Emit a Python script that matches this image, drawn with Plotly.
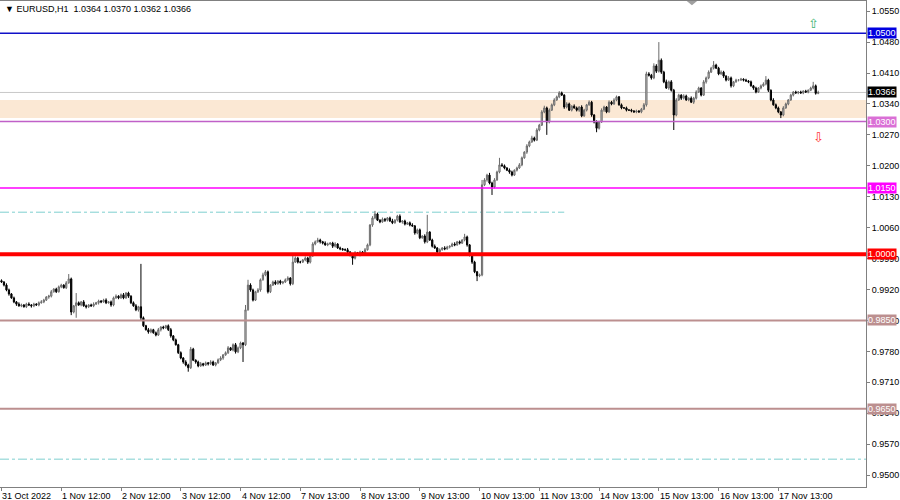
import plotly.graph_objects as go

# ---------------- DATA ----------------
symbol_header = "\u25BC EURUSD,H1  1.0364 1.0370 1.0362 1.0366"

first_open = 0.9940
closes = [
    0.9937,0.9930,0.9919,0.9910,0.9901,0.9892,0.9887,0.9883,0.9885,0.9881,0.9887,0.9885,0.9883,0.9887,0.9885,0.9890,0.9892,0.9896,0.9903,0.9905,0.9915,0.9921,0.9915,0.9926,
    0.9930,0.9924,0.9935,0.9944,0.9869,0.9883,0.9890,0.9885,0.9892,0.9883,0.9881,0.9885,0.9883,0.9887,0.9890,0.9894,0.9892,0.9896,0.9890,0.9892,0.9885,0.9901,0.9905,0.9901,
    0.9908,0.9901,0.9912,0.9905,0.9890,0.9883,0.9874,0.9881,0.9856,0.9838,0.9829,0.9824,0.9829,0.9822,0.9817,0.9829,0.9835,0.9833,0.9838,0.9829,0.9815,0.9806,0.9795,0.9777,
    0.9765,0.9756,0.9749,0.9743,0.9785,0.9760,0.9756,0.9747,0.9752,0.9749,0.9754,0.9752,0.9756,0.9749,0.9754,0.9761,0.9765,0.9772,0.9777,0.9788,0.9783,0.9795,0.9779,0.9788,
    0.9799,0.9795,0.9874,0.9930,0.9919,0.9896,0.9915,0.9919,0.9942,0.9953,0.9960,0.9915,0.9930,0.9937,0.9933,0.9939,0.9935,0.9937,0.9942,0.9946,0.9933,0.9982,0.9991,0.9982,
    0.9982,0.9987,0.9991,0.9982,0.9996,1.0023,1.0028,1.0032,1.0028,1.0025,1.0021,1.0023,1.0025,1.0018,1.0023,1.0014,1.0012,1.0010,1.0010,1.0005,0.9998,0.9991,1.0003,0.9998,
    1.0005,1.0000,1.0010,1.0021,1.0066,1.0082,1.0091,1.0077,1.0073,1.0079,1.0077,1.0082,1.0075,1.0071,1.0077,1.0086,1.0073,1.0075,1.0068,1.0071,1.0066,1.0064,1.0048,1.0055,
    1.0037,1.0041,1.0028,1.0050,1.0032,1.0018,1.0014,1.0005,1.0010,1.0014,1.0012,1.0016,1.0018,1.0023,1.0021,1.0028,1.0025,1.0032,1.0039,1.0021,0.9998,0.9982,0.9960,0.9951,
    0.9953,1.0157,1.0168,1.0179,1.0161,1.0152,1.0168,1.0186,1.0202,1.0200,1.0195,1.0190,1.0186,1.0179,1.0190,1.0195,1.0202,1.0218,1.0231,1.0245,1.0254,1.0263,1.0258,1.0281,
    1.0292,1.0322,1.0331,1.0299,1.0326,1.0338,1.0349,1.0356,1.0365,1.0360,1.0333,1.0340,1.0326,1.0335,1.0331,1.0326,1.0333,1.0313,1.0326,1.0338,1.0344,1.0315,1.0299,1.0285,
    1.0299,1.0326,1.0333,1.0322,1.0344,1.0340,1.0349,1.0356,1.0338,1.0331,1.0331,1.0326,1.0326,1.0324,1.0322,1.0324,1.0322,1.0328,1.0338,1.0408,1.0405,1.0399,1.0426,1.0414,
    1.0439,1.0412,1.0390,1.0376,1.0390,1.0371,1.0315,1.0349,1.0360,1.0353,1.0358,1.0349,1.0353,1.0344,1.0353,1.0367,1.0376,1.0360,1.0390,1.0399,1.0412,1.0421,1.0428,1.0421,
    1.0408,1.0412,1.0403,1.0394,1.0399,1.0381,1.0390,1.0394,1.0394,1.0396,1.0394,1.0392,1.0390,1.0381,1.0376,1.0367,1.0376,1.0381,1.0385,1.0394,1.0371,1.0349,1.0338,1.0331,
    1.0322,1.0315,1.0331,1.0340,1.0349,1.0360,1.0367,1.0365,1.0367,1.0365,1.0369,1.0367,1.0371,1.0376,1.0381,1.0364,1.0366,
]

# upper / lower wick lengths in pips
up_wick_pips = [
    3,2,4,3,2,3,2,4,3,2,3,4,2,3,2,3,4,3,2,3,4,2,3,3,
    3,2,4,11,3,2,22,3,2,4,3,2,3,4,2,3,2,3,4,2,3,3,4,2,
    3,4,2,3,2,3,4,2,97,3,2,4,3,2,3,4,2,3,2,3,4,2,3,2,
    3,2,4,3,5,3,2,3,4,2,3,2,4,3,2,3,4,2,3,4,2,3,4,3,
    3,2,11,12,4,3,2,4,3,5,4,3,2,3,4,2,3,2,3,4,2,18,4,3,
    3,2,4,3,2,4,3,5,3,2,4,3,2,3,4,2,3,2,3,4,2,3,4,2,
    3,2,4,3,2,4,7,3,2,4,3,2,3,5,2,3,4,2,3,2,3,4,2,3,
    3,2,4,39,2,3,4,2,3,2,4,3,2,3,4,2,3,2,7,3,2,4,3,2,
    3,11,4,3,5,3,4,3,16,4,3,2,4,3,2,3,4,3,2,4,3,5,3,4,
    3,4,5,3,4,3,4,3,4,3,2,4,3,2,4,3,2,4,3,2,4,3,2,4,
    3,4,3,2,4,3,4,3,2,3,2,3,2,3,2,3,2,3,4,5,4,3,6,4,
    41,4,3,5,3,4,3,4,3,2,4,3,2,4,3,4,3,2,4,3,4,3,9,3,
    3,4,3,2,4,3,2,3,2,3,2,3,2,3,2,3,2,3,4,9,3,2,4,3,
    3,2,4,3,2,3,2,3,2,3,2,3,2,3,9,3,4,
]
dn_wick_pips = [
    2,3,3,4,2,3,4,2,3,2,3,2,4,3,2,3,2,3,2,4,3,2,3,2,
    3,2,3,2,7,3,27,2,3,2,4,3,2,3,2,4,3,2,3,2,4,3,2,3,
    2,3,2,4,3,2,3,4,5,3,2,4,3,2,3,2,4,3,2,3,4,3,2,3,
    3,4,3,9,3,2,4,3,2,3,2,4,3,2,3,2,3,4,2,3,2,3,4,3,
    3,39,3,2,4,3,2,3,4,2,3,4,3,2,3,2,4,3,2,3,4,3,2,3,
    3,2,3,4,3,2,3,2,4,3,2,3,2,4,3,2,3,2,3,4,3,15,3,2,
    3,2,3,2,3,4,3,2,3,2,4,3,2,3,2,3,2,4,3,2,3,2,4,3,
    3,2,4,3,2,3,2,4,3,2,3,2,3,2,3,2,3,2,3,4,3,4,3,12,
    3,3,3,4,3,18,3,2,3,2,3,2,4,3,2,3,2,3,2,4,3,2,3,2,
    3,2,3,29,3,2,3,2,3,2,4,3,2,3,2,3,4,3,2,3,2,4,3,9,
    3,2,4,3,2,3,2,3,2,3,2,3,2,3,2,3,2,3,2,4,3,4,3,4,
    3,4,3,2,4,3,34,3,2,4,3,2,3,2,4,3,2,3,2,4,3,2,3,2,
    3,2,4,3,2,4,3,2,3,2,3,2,3,2,4,3,2,3,2,3,4,3,2,3,
    3,7,3,2,3,2,3,2,3,2,3,2,3,2,3,3,2,
]

time_labels = ["31 Oct 2022", "1 Nov 12:00", "2 Nov 12:00", "3 Nov 12:00", "4 Nov 12:00",
               "7 Nov 13:00", "8 Nov 13:00", "9 Nov 13:00", "10 Nov 13:00", "11 Nov 13:00",
               "14 Nov 13:00", "15 Nov 13:00", "16 Nov 13:00", "17 Nov 13:00"]
bars_per_label = 24

price_ticks = [0.9500, 0.9570, 0.9640, 0.9710, 0.9780, 0.9850, 0.9920, 0.9990,
               1.0060, 1.0130, 1.0200, 1.0270, 1.0340, 1.0410, 1.0480, 1.0550]

levels = [1.0500, 1.0300, 1.0150, 1.0000, 0.9850, 0.9650]
level_colors = ["#1010C8", "#C060C8", "#FF00FF", "#FF0000", "#BC8F8F", "#BC8F8F"]
level_label_bg = ["#0000E0", "#DA70D6", "#FF00FF", "#FF0000", "#BC8F8F", "#BC8F8F"]
level_widths = [1.5, 1.5, 1.5, 4, 2, 2]

zone_low, zone_high = 1.0308, 1.0349
bid_price = 1.0366
dashdot_levels = [1.0095, 0.9536]
dashdot_end_bar = [226, None]

# ---------------- BUILD ----------------
N = len(closes)
idx = list(range(N))
opens = [first_open] + closes[:-1]
highs = [max(o, c) + u * 0.0001 for o, c, u in zip(opens, closes, up_wick_pips)]
lows = [min(o, c) - d * 0.0001 for o, c, d in zip(opens, closes, dn_wick_pips)]

x_range = [-0.6, 347.2]
y_range = [0.9473, 1.0573]

fig = go.Figure()
fig.add_trace(go.Candlestick(
    x=idx, open=opens, high=highs, low=lows, close=closes,
    increasing=dict(line=dict(color="#6A6A6A", width=1), fillcolor="#D8D8D8"),
    decreasing=dict(line=dict(color="#000000", width=1), fillcolor="#000000"),
    whiskerwidth=0, hoverinfo="skip", showlegend=False,
))

shapes = []
shapes.append(dict(type="rect", xref="paper", yref="y", x0=0, x1=1, y0=zone_low, y1=zone_high,
                   fillcolor="#FBE8D4", line=dict(width=0), layer="below"))
shapes.append(dict(type="line", xref="paper", yref="y", x0=0, x1=1, y0=bid_price, y1=bid_price,
                   line=dict(color="#C8C8C8", width=1), layer="below"))
for lv, end in zip(dashdot_levels, dashdot_end_bar):
    if end is None:
        shapes.append(dict(type="line", xref="paper", yref="y", x0=0, x1=1, y0=lv, y1=lv,
                           line=dict(color="#7FCFCF", width=1, dash="dashdot"), layer="below"))
    else:
        shapes.append(dict(type="line", xref="x", yref="y", x0=x_range[0], x1=end, y0=lv, y1=lv,
                           line=dict(color="#7FCFCF", width=1, dash="dashdot"), layer="below"))
for lv, col, w in zip(levels, level_colors, level_widths):
    shapes.append(dict(type="line", xref="paper", yref="y", x0=0, x1=1, y0=lv, y1=lv,
                       line=dict(color=col, width=w), layer="above"))
shapes.append(dict(type="path", xref="paper", yref="paper",
                   path="M 0.793 1.0 L 0.805 1.0 L 0.799 0.991 Z",
                   fillcolor="#A0A0A0", line=dict(width=0)))

annotations = []
annotations.append(dict(text=symbol_header, xref="paper", yref="paper", x=0.004, y=1.0,
                        xanchor="left", yanchor="top", yshift=-1, showarrow=False,
                        font=dict(family="Liberation Sans", size=9, color="#000000")))
for lv, bg in zip(levels, level_label_bg):
    annotations.append(dict(text=f"{lv:.4f}", xref="paper", yref="y", x=1.0, y=lv,
                            xanchor="left", yanchor="middle", xshift=1, showarrow=False,
                            bgcolor=bg, borderpad=0,
                            font=dict(family="Liberation Sans", size=9, color="#FFFFFF")))
annotations.append(dict(text=f"{bid_price:.4f}", xref="paper", yref="y", x=1.0, y=bid_price,
                        xanchor="left", yanchor="middle", xshift=1, showarrow=False,
                        bgcolor="#000000", borderpad=0,
                        font=dict(family="Liberation Sans", size=9, color="#FFFFFF")))
annotations.append(dict(text="\u21E7", xref="x", yref="y", x=326, y=1.0521, showarrow=False,
                        font=dict(family="DejaVu Sans", size=13, color="#3CB371")))
annotations.append(dict(text="\u21E9", xref="x", yref="y", x=328, y=1.0265, showarrow=False,
                        font=dict(family="DejaVu Sans", size=13, color="#FF3030")))
tick_idx = [k * bars_per_label for k in range(len(time_labels))]
for t, lab in zip(tick_idx, time_labels):
    annotations.append(dict(text=lab, xref="x", yref="paper", x=t, y=0, xanchor="left",
                            yanchor="top", yshift=-2, xshift=-1, showarrow=False,
                            font=dict(family="Liberation Sans", size=9, color="#000000")))

fig.update_layout(
    width=900, height=500,
    margin=dict(l=0, r=34, t=1, b=13),
    paper_bgcolor="#FFFFFF", plot_bgcolor="#FFFFFF",
    shapes=shapes, annotations=annotations,
    showlegend=False,
    xaxis=dict(range=x_range, rangeslider=dict(visible=False), showgrid=False, zeroline=False,
               tickvals=tick_idx, ticktext=[""] * len(tick_idx), ticks="outside", ticklen=3,
               tickcolor="#808080", showline=True, linecolor="#808080", linewidth=1, mirror=True,
               fixedrange=True),
    yaxis=dict(range=y_range, side="right", showgrid=False, zeroline=False,
               tickvals=price_ticks, ticktext=[f"{v:.4f}" for v in price_ticks],
               ticks="outside", ticklen=3, tickcolor="#808080",
               tickfont=dict(family="Liberation Sans", size=9, color="#000000"),
               showline=True, linecolor="#808080", linewidth=1, mirror=True, fixedrange=True),
)

fig.write_html("out.html", config={"displayModeBar": False},
               post_script="document.body.style.margin='0';document.body.style.overflow='hidden';")
